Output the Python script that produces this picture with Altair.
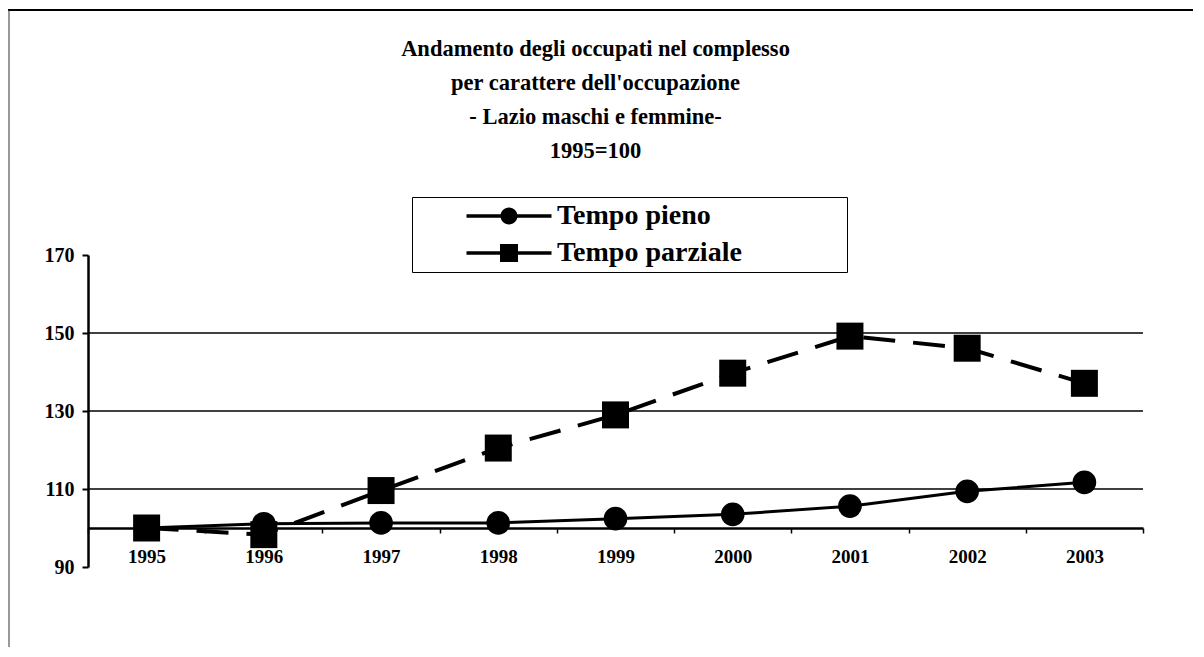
import altair as alt
import pandas as pd

# ---- data ----
years = ["1995", "1996", "1997", "1998", "1999", "2000", "2001", "2002", "2003"]
tempo_pieno = [100, 101.1, 101.3, 101.3, 102.4, 103.5, 105.6, 109.4, 111.7]
tempo_parziale = [100, 98.3, 109.6, 120.5, 129.0, 139.7, 149.2, 146.1, 137.1]
series_names = ["Tempo pieno", "Tempo parziale"]
y_ticks = [90, 110, 130, 150, 170]
grid_values = [110, 130, 150]
title_lines = [
    "Andamento degli occupati nel complesso",
    "per carattere dell'occupazione",
    "- Lazio maschi e femmine-",
    "1995=100",
]

rows = []
for name, vals in zip(series_names, [tempo_pieno, tempo_parziale]):
    for y, v in zip(years, vals):
        rows.append({"anno": y, "valore": v, "serie": name})
df = pd.DataFrame(rows)
grid_df = pd.DataFrame({"valore": grid_values})
one_df = pd.DataFrame({"k": [0]})

FONT = "Liberation Serif"
W, H = 1055, 312

x_enc = alt.X(
    "anno:O",
    sort=years,
    scale=alt.Scale(type="band", paddingInner=0, paddingOuter=0),
    axis=alt.Axis(
        title=None, labelAngle=0, offset=-39, domainColor="black", domainWidth=2.5,
        tickBand="extent", tickSize=5, tickWidth=1.5, tickColor="black",
        labelFont=FONT, labelFontSize=19, labelFontWeight="bold", labelColor="black",
        labelPadding=14, grid=False,
    ),
)
y_scale = alt.Scale(domain=[90, 170], nice=False, zero=False)
y_enc = alt.Y(
    "valore:Q",
    scale=y_scale,
    axis=alt.Axis(
        title=None, values=y_ticks, grid=False, domainColor="black", domainWidth=2.5,
        tickSize=6, tickWidth=2, tickColor="black", labelPadding=8,
        labelFont=FONT, labelFontSize=20, labelFontWeight="bold", labelColor="black",
    ),
)

grid = alt.Chart(grid_df).mark_rule(color="black", strokeWidth=1.5).encode(
    y=alt.Y("valore:Q", scale=y_scale)
)

line_pieno = alt.Chart(df).transform_filter(
    alt.datum.serie == "Tempo pieno"
).mark_line(color="black", strokeWidth=3).encode(x=x_enc, y=y_enc)

line_parziale = alt.Chart(df).transform_filter(
    alt.datum.serie == "Tempo parziale"
).mark_line(color="black", strokeWidth=4, strokeDash=[32, 18]).encode(x=x_enc, y=y_enc)

points = alt.Chart(df).mark_point(filled=True, color="black", opacity=1).encode(
    x=x_enc,
    y=y_enc,
    shape=alt.Shape("serie:N", scale=alt.Scale(domain=series_names, range=["circle", "square"]), legend=None),
    size=alt.Size("serie:N", scale=alt.Scale(domain=series_names, range=[560, 729]), legend=None),
)

# legend symbols: a bar (line) with the marker in the middle, all filled, same winding
circle_path = ("M-8.5,-0.35L8.5,-0.35L8.5,0.35L-8.5,0.35Z"
               "M-1.7,0A1.7,1.7,0,1,1,1.7,0A1.7,1.7,0,1,1,-1.7,0Z")
square_path = ("M-8.5,-0.35L8.5,-0.35L8.5,0.35L-8.5,0.35Z"
               "M-1.8,-1.8L1.8,-1.8L1.8,1.8L-1.8,1.8Z")

legend_layer = alt.Chart(df).transform_filter("false").mark_point(
    filled=True, fill="black", opacity=1
).encode(
    x=x_enc,
    y=y_enc,
    shape=alt.Shape(
        "serie:N",
        scale=alt.Scale(domain=series_names, range=[circle_path, square_path]),
        legend=alt.Legend(
            title="\u00a0", titleOrient="right", titlePadding=100, titleFontSize=10,
            orient="none", legendX=324, legendY=-58, direction="vertical",
            strokeColor="black", padding=5, symbolSize=100, symbolOffset=78,
            labelOffset=34, labelFont=FONT, labelFontSize=28, labelFontWeight="bold",
            labelColor="black", symbolFillColor="black", symbolStrokeWidth=0,
            rowPadding=9, symbolOpacity=1, labelLimit=600,
        ),
    ),
)

frame_top = alt.Chart(one_df).mark_rule(color="black", strokeWidth=2).encode(
    x=alt.value(-80), x2=alt.value(1105), y=alt.value(-245)
)
frame_left = alt.Chart(one_df).mark_rule(color="#333", strokeWidth=1).encode(
    x=alt.value(-79), y=alt.value(-245), y2=alt.value(400)
)

chart = alt.layer(
    frame_top, frame_left, grid, line_pieno, line_parziale, points, legend_layer
).resolve_scale(shape="independent", size="independent").properties(
    width=W,
    height=H,
    padding={"left": 80, "top": 247, "right": 50, "bottom": 80},
    autosize=alt.AutoSizeParams(type="none"),
    background="white",
    title=alt.TitleParams(
        text=title_lines, font=FONT, fontSize=22.5, fontWeight="bold", color="black",
        lineHeight=34, anchor="middle", frame="group", dx=-20, offset=-153,
    ),
).configure_view(strokeWidth=0, stroke="transparent")

chart.save("out.html", embed_options={"renderer": "svg", "actions": False})
